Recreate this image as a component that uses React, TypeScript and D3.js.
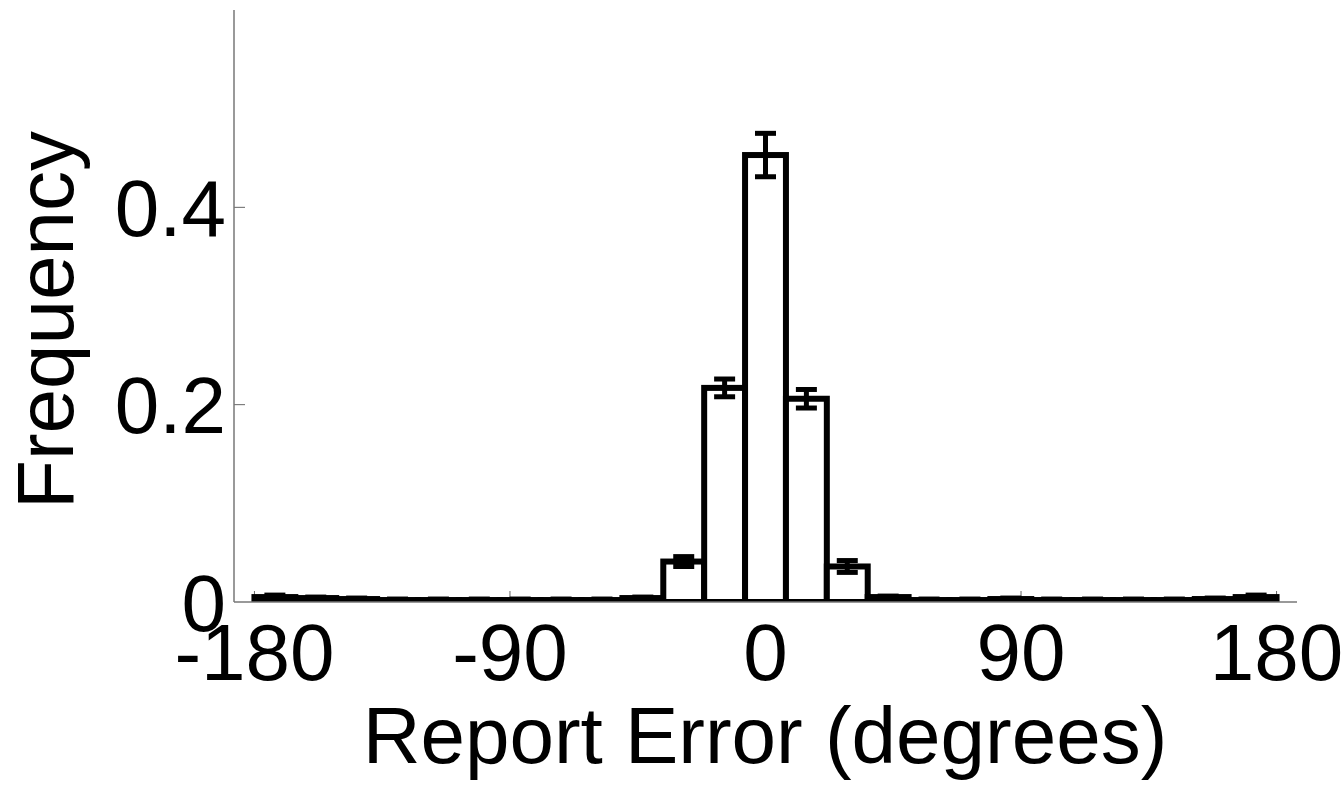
import React, { useEffect, useRef } from "react";
import * as d3 from "d3";

// bin centres (degrees), 25 bins of 14.4 deg
const binCenters = [
  -172.8, -158.4, -144.0, -129.6, -115.2, -100.8, -86.4, -72.0, -57.6, -43.2, -28.8, -14.4,
  0, 14.4, 28.8, 43.2, 57.6, 72.0, 86.4, 100.8, 115.2, 129.6, 144.0, 158.4, 172.8,
];
const frequency = [
  0.005, 0.004, 0.003, 0.002, 0.002, 0.002, 0.002, 0.002, 0.002, 0.004, 0.041, 0.217,
  0.453, 0.206, 0.036, 0.005, 0.002, 0.002, 0.003, 0.002, 0.002, 0.002, 0.002, 0.003, 0.005,
];
const errors = [
  0.002, 0.001, 0.001, 0.001, 0.001, 0.001, 0.001, 0.001, 0.001, 0.001, 0.005, 0.009,
  0.022, 0.0094, 0.006, 0.001, 0.001, 0.001, 0.001, 0.001, 0.001, 0.001, 0.001, 0.001, 0.002,
];
const xTicks = [-180, -90, 0, 90, 180];
const yTicks = [0, 0.2, 0.4];

const App = () => {
  const svgRef = useRef(null);

  useEffect(() => {
    const W = 1343, H = 789;
    const left = 234, right = 1297, top = 10, bottom = 602;
    const binWidth = 14.4;
    const font = "'Liberation Sans', Arial, Helvetica, sans-serif";

    const svg = d3.select(svgRef.current).attr("width", W).attr("height", H);
    svg.selectAll("*").remove();

    const x = d3.scaleLinear().domain([-187.2, 187.2]).range([left, right]);
    const y = d3.scaleLinear().domain([0, 0.6]).range([bottom, top]);

    svg.append("defs").append("clipPath").attr("id", "plotclip")
      .append("rect").attr("x", left).attr("y", 0).attr("width", right - left).attr("height", bottom);

    const data = binCenters.map((c, i) => ({ c, v: frequency[i], e: errors[i] }));

    // ticks (inward) drawn under bars
    svg.append("g").selectAll("line").data(xTicks).enter().append("line")
      .attr("x1", d => x(d)).attr("x2", d => x(d))
      .attr("y1", bottom).attr("y2", bottom - 11)
      .attr("stroke", "#666").attr("stroke-width", 1);
    svg.append("g").selectAll("line").data(yTicks.filter(d => d > 0)).enter().append("line")
      .attr("x1", left).attr("x2", left + 11)
      .attr("y1", d => y(d)).attr("y2", d => y(d))
      .attr("stroke", "#666").attr("stroke-width", 1);

    const plot = svg.append("g").attr("clip-path", "url(#plotclip)");

    plot.selectAll(".bar").data(data).enter().append("rect")
      .attr("class", "bar")
      .attr("x", d => x(d.c - binWidth / 2))
      .attr("width", d => x(d.c + binWidth / 2) - x(d.c - binWidth / 2))
      .attr("y", d => y(d.v))
      .attr("height", d => y(0) - y(d.v))
      .attr("fill", "#fff")
      .attr("stroke", "#000")
      .attr("stroke-width", 6);

    const eb = plot.selectAll(".err").data(data).enter().append("g").attr("class", "err");
    eb.append("line")
      .attr("x1", d => x(d.c)).attr("x2", d => x(d.c))
      .attr("y1", d => y(d.v + d.e)).attr("y2", d => y(d.v - d.e))
      .attr("stroke", "#000").attr("stroke-width", 5);
    eb.append("line")
      .attr("x1", d => x(d.c) - 10.5).attr("x2", d => x(d.c) + 10.5)
      .attr("y1", d => y(d.v + d.e)).attr("y2", d => y(d.v + d.e))
      .attr("stroke", "#000").attr("stroke-width", 5);
    eb.append("line")
      .attr("x1", d => x(d.c) - 10.5).attr("x2", d => x(d.c) + 10.5)
      .attr("y1", d => y(d.v - d.e)).attr("y2", d => y(d.v - d.e))
      .attr("stroke", "#000").attr("stroke-width", 5);

    // axis lines
    svg.append("line").attr("x1", left).attr("x2", right).attr("y1", bottom).attr("y2", bottom)
      .attr("stroke", "#777").attr("stroke-width", 1.5);
    svg.append("line").attr("x1", left).attr("x2", left).attr("y1", top).attr("y2", bottom)
      .attr("stroke", "#777").attr("stroke-width", 1.5);

    // tick labels
    svg.append("g").selectAll("text").data(xTicks).enter().append("text")
      .attr("x", d => x(d)).attr("y", 680)
      .attr("text-anchor", "middle")
      .attr("font-family", font).attr("font-size", 80)
      .text(d => String(d));
    svg.append("g").selectAll("text").data(yTicks).enter().append("text")
      .attr("x", 226).attr("y", d => y(d) + 28.5)
      .attr("text-anchor", "end")
      .attr("font-family", font).attr("font-size", 80)
      .text(d => String(d));

    // axis labels
    svg.append("text")
      .attr("x", 765).attr("y", 763)
      .attr("text-anchor", "middle")
      .attr("font-family", font).attr("font-size", 80)
      .text("Report Error (degrees)");
    svg.append("text")
      .attr("transform", "translate(73,320) rotate(-90)")
      .attr("text-anchor", "middle")
      .attr("font-family", font).attr("font-size", 80)
      .text("Frequency");
  }, []);

  return <svg ref={svgRef} style={{ position: "absolute", left: 0, top: 0, background: "#fff" }}></svg>;
};

export default App;
